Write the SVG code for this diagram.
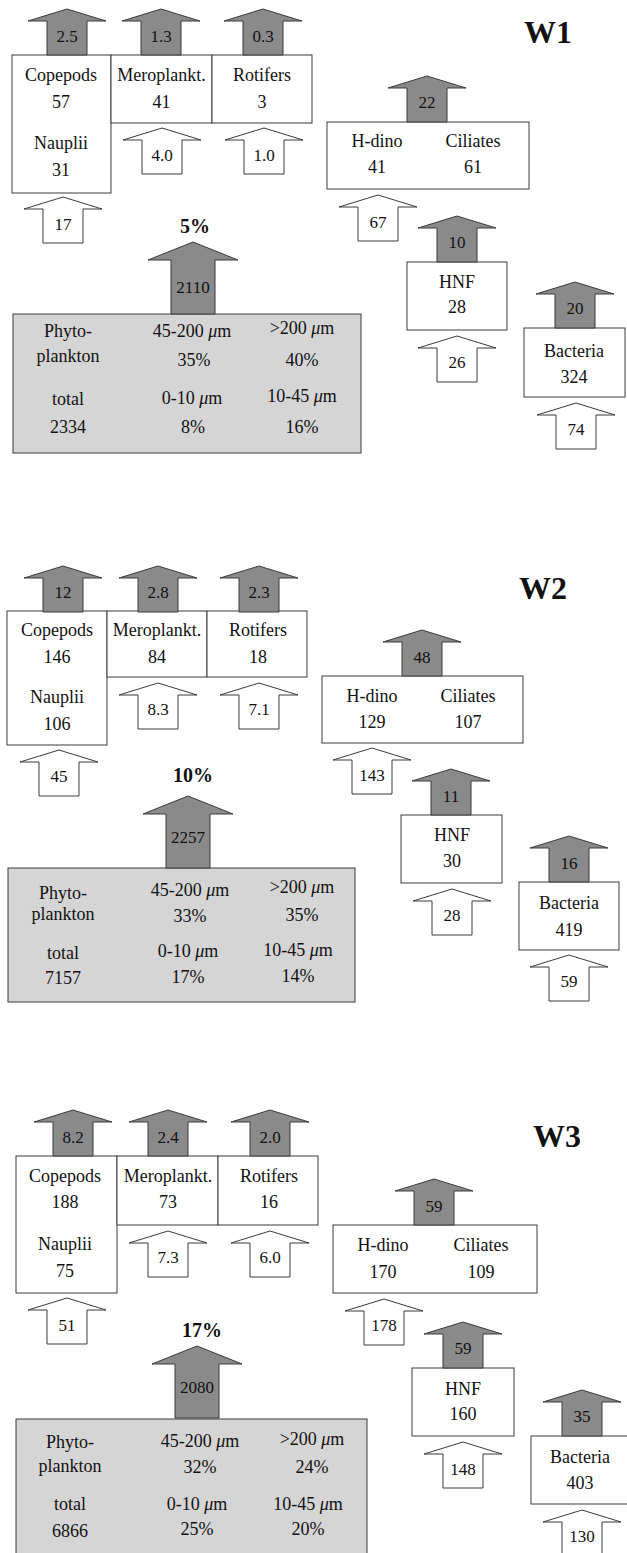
<svg xmlns="http://www.w3.org/2000/svg" xmlns:xlink="http://www.w3.org/1999/xlink" width="627" height="1553" viewBox="0 0 627 1553">
<style>
.out{fill:#8a8a8a;stroke:#3a3a3a;stroke-width:1}
.in{fill:#ffffff;stroke:#3a3a3a;stroke-width:1}
.box{fill:#ffffff;stroke:#3a3a3a;stroke-width:1}
.phy{fill:#d5d5d5;stroke:#3a3a3a;stroke-width:1}
text{font-family:"Liberation Serif","Times New Roman",serif;font-size:18px;text-anchor:middle;fill:#111}
.al{font-size:17px}
.pc{font-weight:bold;font-size:20px}
.ttl{font-weight:bold;font-size:32px}
.mu{font-style:italic}
</style>
<defs>
<path id="sa" d="M-20,46 V12 H-39 L0,0 L39,12 H20 V46 Z"/>
<path id="ba" d="M-22,72 V18 H-45 L0,0 L45,18 H22 V72 Z"/>
</defs>

<!-- ================= W1 ================= -->
<g id="w1-nodes">
<g id="w1-copepods"><rect class="box" x="12" y="55" width="99" height="138"/>
<text x="61" y="81">Copepods</text><text x="61" y="108">57</text><text x="61" y="149">Nauplii</text><text x="61" y="176">31</text></g>
<g id="w1-meroplankt"><rect class="box" x="111" y="55" width="101" height="68"/>
<text x="161.5" y="81">Meroplankt.</text><text x="161.5" y="108">41</text></g>
<g id="w1-rotifers"><rect class="box" x="212" y="55" width="100" height="68"/>
<text x="262" y="81">Rotifers</text><text x="262" y="108">3</text></g>
<g id="w1-hdino-ciliates"><rect class="box" x="327" y="122" width="202" height="67"/>
<text x="377" y="147">H-dino</text><text x="473" y="147">Ciliates</text><text x="377" y="173">41</text><text x="473" y="173">61</text></g>
<g id="w1-hnf"><rect class="box" x="407" y="262" width="100" height="68"/>
<text x="457" y="288">HNF</text><text x="457" y="313">28</text></g>
<g id="w1-bacteria"><rect class="box" x="524" y="328" width="101" height="69"/>
<text x="574" y="357">Bacteria</text><text x="574" y="383">324</text></g>
<g id="w1-phytoplankton"><rect class="phy" x="13" y="314" width="348" height="139"/>
<text x="68" y="337">Phyto-</text><text x="68" y="362">plankton</text><text x="68" y="405">total</text><text x="68" y="433">2334</text>
<text x="192" y="337">45-200 <tspan class="mu">μ</tspan>m</text><text x="194" y="366">35%</text>
<text x="192" y="404">0-10 <tspan class="mu">μ</tspan>m</text><text x="193" y="433">8%</text>
<text x="302" y="334">&gt;200 <tspan class="mu">μ</tspan>m</text><text x="302" y="366">40%</text>
<text x="302" y="402">10-45 <tspan class="mu">μ</tspan>m</text><text x="302" y="433">16%</text></g>
<text class="ttl" x="548" y="43">W1</text>
<text class="pc" x="195" y="233">5%</text>
</g>

<!-- ================= W2 ================= -->
<g id="w2-nodes">
<g id="w2-copepods"><rect class="box" x="7" y="611" width="100" height="134"/>
<text x="57" y="636">Copepods</text><text x="57" y="663">146</text><text x="57" y="703">Nauplii</text><text x="57" y="730">106</text></g>
<g id="w2-meroplankt"><rect class="box" x="107" y="611" width="100" height="66"/>
<text x="157" y="636">Meroplankt.</text><text x="157" y="663">84</text></g>
<g id="w2-rotifers"><rect class="box" x="207" y="611" width="100" height="66"/>
<text x="258" y="636">Rotifers</text><text x="258" y="663">18</text></g>
<g id="w2-hdino-ciliates"><rect class="box" x="322" y="676" width="201" height="67"/>
<text x="372" y="702">H-dino</text><text x="468" y="702">Ciliates</text><text x="372" y="728">129</text><text x="468" y="728">107</text></g>
<g id="w2-hnf"><rect class="box" x="401" y="815" width="101" height="68"/>
<text x="452" y="841">HNF</text><text x="452" y="867">30</text></g>
<g id="w2-bacteria"><rect class="box" x="519" y="882" width="100" height="68"/>
<text x="569" y="909">Bacteria</text><text x="569" y="936">419</text></g>
<g id="w2-phytoplankton"><rect class="phy" x="8" y="868" width="347" height="134"/>
<text x="63" y="899">Phyto-</text><text x="63" y="920">plankton</text><text x="63" y="959">total</text><text x="63" y="984">7157</text>
<text x="190" y="896">45-200 <tspan class="mu">μ</tspan>m</text><text x="190" y="922">33%</text>
<text x="188" y="957">0-10 <tspan class="mu">μ</tspan>m</text><text x="188" y="983">17%</text>
<text x="302" y="893">&gt;200 <tspan class="mu">μ</tspan>m</text><text x="302" y="921">35%</text>
<text x="298" y="956">10-45 <tspan class="mu">μ</tspan>m</text><text x="298" y="982">14%</text></g>
<text class="ttl" x="543" y="599">W2</text>
<text class="pc" x="193" y="782">10%</text>
</g>

<!-- ================= W3 ================= -->
<g id="w3-nodes">
<g id="w3-copepods"><rect class="box" x="16" y="1156" width="101" height="137"/>
<text x="65" y="1182">Copepods</text><text x="65" y="1208">188</text><text x="65" y="1250">Nauplii</text><text x="65" y="1277">75</text></g>
<g id="w3-meroplankt"><rect class="box" x="117" y="1156" width="101" height="69"/>
<text x="168" y="1182">Meroplankt.</text><text x="168" y="1208">73</text></g>
<g id="w3-rotifers"><rect class="box" x="218" y="1156" width="100" height="69"/>
<text x="269" y="1182">Rotifers</text><text x="269" y="1208">16</text></g>
<g id="w3-hdino-ciliates"><rect class="box" x="333" y="1225" width="204" height="68"/>
<text x="383" y="1251">H-dino</text><text x="481" y="1251">Ciliates</text><text x="383" y="1278">170</text><text x="481" y="1278">109</text></g>
<g id="w3-hnf"><rect class="box" x="412" y="1368" width="102" height="68"/>
<text x="463" y="1395">HNF</text><text x="463" y="1420">160</text></g>
<g id="w3-bacteria"><rect class="box" x="531" y="1436" width="100" height="68"/>
<text x="580" y="1463">Bacteria</text><text x="580" y="1489">403</text></g>
<g id="w3-phytoplankton"><rect class="phy" x="16" y="1419" width="351" height="150"/>
<text x="70" y="1448">Phyto-</text><text x="70" y="1472">plankton</text><text x="70" y="1510">total</text><text x="70" y="1537">6866</text>
<text x="200" y="1447">45-200 <tspan class="mu">μ</tspan>m</text><text x="200" y="1473">32%</text>
<text x="197" y="1510">0-10 <tspan class="mu">μ</tspan>m</text><text x="197" y="1535">25%</text>
<text x="312" y="1445">&gt;200 <tspan class="mu">μ</tspan>m</text><text x="312" y="1473">24%</text>
<text x="308" y="1510">10-45 <tspan class="mu">μ</tspan>m</text><text x="308" y="1535">20%</text></g>
<text class="ttl" x="557" y="1147">W3</text>
<text class="pc" x="202" y="1337">17%</text>
</g>

<!-- ================= flow arrows ================= -->
<g id="connectors">
<!-- W1 -->
<use href="#sa" class="out" x="67" y="9"/><text class="al" x="67" y="42">2.5</text>
<use href="#sa" class="out" x="161" y="9"/><text class="al" x="161" y="42">1.3</text>
<use href="#sa" class="out" x="263" y="9"/><text class="al" x="263" y="42">0.3</text>
<use href="#sa" class="out" x="427" y="76"/><text class="al" x="427" y="108">22</text>
<use href="#sa" class="out" x="457" y="216"/><text class="al" x="457" y="248">10</text>
<use href="#sa" class="out" x="575" y="282"/><text class="al" x="575" y="314">20</text>
<use href="#sa" class="in" x="162" y="128"/><text class="al" x="162" y="161">4.0</text>
<use href="#sa" class="in" x="264" y="128"/><text class="al" x="264" y="161">1.0</text>
<use href="#sa" class="in" x="63" y="197"/><text class="al" x="63" y="230">17</text>
<use href="#sa" class="in" x="378" y="195"/><text class="al" x="378" y="228">67</text>
<use href="#sa" class="in" x="457" y="336"/><text class="al" x="457" y="368">26</text>
<use href="#sa" class="in" x="576" y="403"/><text class="al" x="576" y="435">74</text>
<use href="#ba" class="out" x="193" y="242"/><text class="al" x="193" y="293">2110</text>
<!-- W2 -->
<use href="#sa" class="out" x="63" y="566"/><text class="al" x="63" y="598">12</text>
<use href="#sa" class="out" x="158" y="566"/><text class="al" x="158" y="598">2.8</text>
<use href="#sa" class="out" x="259" y="566"/><text class="al" x="259" y="598">2.3</text>
<use href="#sa" class="out" x="422" y="630"/><text class="al" x="422" y="663">48</text>
<use href="#sa" class="out" x="451" y="769"/><text class="al" x="451" y="802">11</text>
<use href="#sa" class="out" x="569" y="836"/><text class="al" x="569" y="869">16</text>
<use href="#sa" class="in" x="158" y="683"/><text class="al" x="158" y="715">8.3</text>
<use href="#sa" class="in" x="259" y="683"/><text class="al" x="259" y="715">7.1</text>
<use href="#sa" class="in" x="59" y="750"/><text class="al" x="59" y="782">45</text>
<use href="#sa" class="in" x="372" y="748"/><text class="al" x="372" y="781">143</text>
<use href="#sa" class="in" x="452" y="889"/><text class="al" x="452" y="921">28</text>
<use href="#sa" class="in" x="569" y="955"/><text class="al" x="569" y="987">59</text>
<use href="#ba" class="out" x="188" y="796"/><text class="al" x="188" y="843">2257</text>
<!-- W3 -->
<use href="#sa" class="out" x="73" y="1110"/><text class="al" x="73" y="1143">8.2</text>
<use href="#sa" class="out" x="168" y="1110"/><text class="al" x="168" y="1143">2.4</text>
<use href="#sa" class="out" x="270" y="1110"/><text class="al" x="270" y="1143">2.0</text>
<use href="#sa" class="out" x="434" y="1179"/><text class="al" x="434" y="1212">59</text>
<use href="#sa" class="out" x="463" y="1322"/><text class="al" x="463" y="1354">59</text>
<use href="#sa" class="out" x="582" y="1390"/><text class="al" x="582" y="1422">35</text>
<use href="#sa" class="in" x="168" y="1231"/><text class="al" x="168" y="1263">7.3</text>
<use href="#sa" class="in" x="270" y="1231"/><text class="al" x="270" y="1263">6.0</text>
<use href="#sa" class="in" x="67" y="1298"/><text class="al" x="67" y="1331">51</text>
<use href="#sa" class="in" x="384" y="1299"/><text class="al" x="384" y="1331">178</text>
<use href="#sa" class="in" x="463" y="1442"/><text class="al" x="463" y="1475">148</text>
<use href="#sa" class="in" x="582" y="1510"/><text class="al" x="582" y="1542">130</text>
<use href="#ba" class="out" x="197" y="1346"/><text class="al" x="197" y="1393">2080</text>
</g>
</svg>
